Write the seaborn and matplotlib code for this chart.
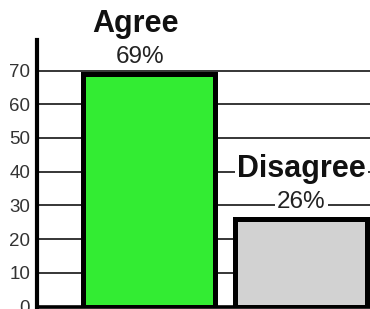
import matplotlib
matplotlib.use('Agg')
import matplotlib.pyplot as plt
import seaborn as sns
import pandas as pd

# values
categories = ['Agree', 'Disagree']
values = [69, 26]
pct_labels = ['69%', '26%']
bar_colors = ['#33ec33', '#d2d2d2']
yticks = [0, 10, 20, 30, 40, 50, 60, 70]

sns.set_style('white')
plt.rcParams['font.family'] = ['Liberation Sans', 'DejaVu Sans']

df = pd.DataFrame({'answer': categories, 'share': values})

fig = plt.figure(figsize=(3.7, 3.09), dpi=100)
ax = fig.add_axes([0.1, 0.008, 0.9, 0.862])

# black guide lines behind the bars
for y in yticks[1:]:
    ax.axhline(y, color='black', lw=1.1, zorder=0)

sns.barplot(data=df, x='answer', y='share', hue='answer', palette=bar_colors,
            legend=False, width=0.87, edgecolor='black', linewidth=3.6,
            saturation=1, ax=ax, zorder=2)

# the labels over the first bar sit a little left of centre in the original
name_dx = [-0.085, 0.0]
pct_dx = [-0.055, 0.0]
box = dict(facecolor='white', edgecolor='none', pad=1.5)
for i, (name, v, p) in enumerate(zip(categories, values, pct_labels)):
    ax.text(i + pct_dx[i], v + 3.3, p, ha='center', va='baseline',
            fontsize=17.5, color='#222222', bbox=box, zorder=3)
    ax.text(i + name_dx[i], v + 12.4, name, ha='center', va='baseline',
            fontsize=22, fontweight='bold', color='#111111', bbox=box,
            zorder=3, clip_on=False)

ax.set_xlim(-0.734, 1.453)
ax.set_ylim(0, 79)
ax.set_yticks(yticks)
ax.set_xticks([])
ax.set_xlabel('')
ax.set_ylabel('')
ax.tick_params(axis='y', length=0, pad=5, labelsize=13.5, labelcolor='#333333')

for side in ['top', 'right']:
    ax.spines[side].set_visible(False)
ax.spines['left'].set_linewidth(3)
ax.spines['bottom'].set_linewidth(2.6)
ax.spines['left'].set_color('black')
ax.spines['bottom'].set_color('black')

plt.savefig('out.png', dpi=100)
plt.close()
